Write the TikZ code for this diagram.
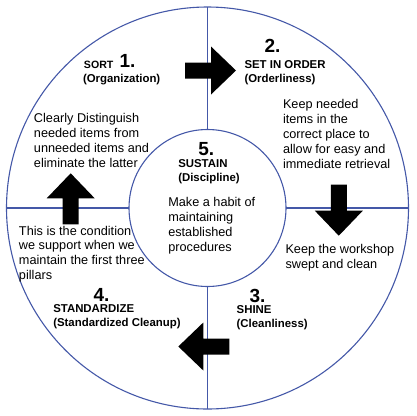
\documentclass[tikz,border=0pt]{standalone}
\usepackage{fontspec}
\setmainfont{Liberation Sans}
\definecolor{ringblue}{RGB}{68,88,168}
\newcommand{\bodyf}{\fontsize{12.7}{15}\selectfont}
\newcommand{\headf}{\fontsize{11.4}{13}\selectfont\bfseries}
\newcommand{\sortf}{\fontsize{10.6}{13}\selectfont\bfseries}
\newcommand{\numf}{\fontsize{19}{20}\selectfont\bfseries}
\begin{document}
\begin{tikzpicture}[x=1pt,y=-1pt,
  ring/.style={draw=ringblue,line width=1.1pt},
  txt/.style={anchor=base west,inner sep=0pt,outer sep=0pt},
  blockarrow/.style={fill=black,draw=none}]
\useasboundingbox (0,0) rectangle (416,416);
\coordinate (c) at (207.5,208);
% circles
\draw[ring] (c) circle[radius=201];
\draw[ring] (c) circle[radius=78.5];
% dividers
\draw[ring] (207.5,7) -- (207.5,129.5);
\draw[ring] (286,208) -- (408.5,208);
\draw[ring] (207.5,286.5) -- (207.5,409);
\draw[ring] (6.5,208) -- (129,208);
% arrows
\foreach \px/\py/\ang in {236/70.5/0, 338.8/235.7/-90, 178.3/346.5/180, 70.7/173.3/90}{
  \begin{scope}[shift={(\px,\py)},rotate=\ang]
    \fill[blockarrow] (0,0) -- (-25,-24) -- (-25,-8) -- (-51,-8) -- (-51,8) -- (-25,8) -- (-25,24) -- cycle;
  \end{scope}
}
% 1 SORT
\node[txt,font=\sortf] (sort) at (84,68) {SORT};
\node[txt,font=\numf] (n1) at (119.5,67) {1.};
\node[txt,font=\headf] (sorts) at (83,82) {(Organization)};
\foreach \t [count=\i from 0] in {Clearly Distinguish,needed items from,unneeded items and,eliminate the latter}{
  \node[txt,font=\bodyf] (sb\i) at (34,122+15*\i) {\t};
}
% 2 SET IN ORDER
\node[txt,font=\numf] (n2) at (264.5,52.7) {2.};
\node[txt,font=\headf] (set) at (244.5,68.3) {SET IN ORDER};
\node[txt,font=\headf] (sets) at (244.5,82) {(Orderliness)};
\foreach \t [count=\i from 0] in {Keep needed,items in the,correct place to,allow for easy and,immediate retrieval}{
  \node[txt,font=\bodyf] (ob\i) at (283,108.3+15*\i) {\t};
}
% 3 SHINE
\node[txt,font=\numf] (n3) at (249.5,302.5) {3.};
\node[txt,font=\headf] (shine) at (236.7,313.5) {SHINE};
\node[txt,font=\headf] (shines) at (236.7,327) {(Cleanliness)};
\foreach \t [count=\i from 0] in {Keep the workshop,swept and clean}{
  \node[txt,font=\bodyf] (hb\i) at (285.5,253+15*\i) {\t};
}
% 4 STANDARDIZE
\node[txt,font=\numf] (n4) at (93.5,301.3) {4.};
\node[txt,font=\headf] (std) at (53.3,312) {STANDARDIZE};
\node[txt,font=\headf] (stds) at (53.3,326.3) {(Standardized Cleanup)};
\foreach \t [count=\i from 0] in {This is the condition,we support when we,maintain the first three,pillars}{
  \node[txt,font=\bodyf] (tb\i) at (19,235+14.7*\i) {\t};
}
% 5 SUSTAIN
\node[txt,font=\numf] (n5) at (198.3,155) {5.};
\node[txt,font=\headf] (sus) at (178.3,167.7) {SUSTAIN};
\node[txt,font=\headf] (suss) at (178.3,181.7) {(Discipline)};
\foreach \t [count=\i from 0] in {Make a habit of,maintaining,established,procedures}{
  \node[txt,font=\bodyf] (ub\i) at (168.3,206.7+15*\i) {\t};
}
\end{tikzpicture}
\end{document}
